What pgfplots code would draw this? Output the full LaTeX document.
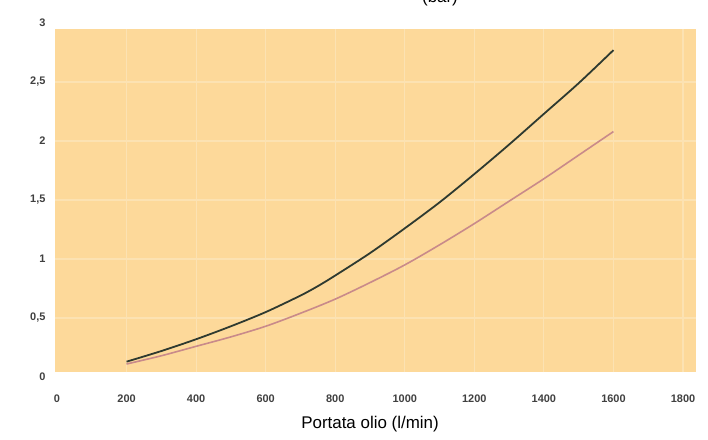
\documentclass[border=0pt]{standalone}
\usepackage{pgfplots}
\pgfplotsset{compat=1.18}
\usepackage{fontspec}
\setmainfont{Liberation Sans}
\definecolor{bgor}{HTML}{FDD99A}
\definecolor{gridc}{HTML}{FCE2B2}
\definecolor{darkc}{HTML}{2E3A30}
\definecolor{pinkc}{HTML}{C98A8A}
\definecolor{tickc}{HTML}{404040}
\begin{document}
\begin{tikzpicture}[x=1bp,y=1bp]
\useasboundingbox (-57bp,-63bp) rectangle (651bp,377bp);
\begin{axis}[
  at={(0,0)}, anchor=origin,
  scale only axis,
  width=626bp, height=354bp,
  xmin=0, xmax=1800, ymin=0, ymax=3,
  clip=false,
  axis line style={draw=none},
  tick style={draw=none},
  xtick={0,200,...,1800},
  ytick={0,0.5,1,1.5,2,2.5,3},
  yticklabels={0,{0,5},1,{1,5},2,{2,5},3},
  /pgf/number format/assume math mode=true,
  /pgf/number format/1000 sep={},
  ticklabel style={font=\fontsize{11}{13}\selectfont\bfseries, text=tickc},
  xticklabel style={yshift=-14bp},
  yticklabel style={xshift=-8bp},
]
\fill[bgor] (axis cs:-6,0.04) rectangle (axis cs:1838,2.95);
\pgfplotsinvokeforeach{200,400,...,1800}{\draw[gridc, line width=1.2bp] (axis cs:#1,0.04) -- (axis cs:#1,2.95);}
\pgfplotsinvokeforeach{0.5,1,1.5,2,2.5}{\draw[gridc, line width=1.2bp] (axis cs:-6,#1) -- (axis cs:1838,#1);}
\addplot[pinkc, line width=1.6bp, smooth] coordinates {
(200,0.11) (300,0.18) (400,0.26) (500,0.34) (600,0.43) (700,0.54) (800,0.66)
(900,0.80) (1000,0.95) (1100,1.12) (1200,1.30) (1300,1.49) (1400,1.68)
(1500,1.88) (1600,2.08)};
\addplot[darkc, line width=1.8bp, smooth] coordinates {
(200,0.13) (300,0.22) (400,0.32) (500,0.43) (600,0.55) (700,0.69) (750,0.77)
(800,0.86) (900,1.05) (1000,1.26) (1100,1.48) (1200,1.72) (1300,1.97)
(1400,2.23) (1500,2.49) (1600,2.77)};
\end{axis}
\node[anchor=base, font=\fontsize{17}{20}\selectfont] at (313bp,-51bp) {Portata olio (l/min)};
\node[anchor=base, font=\fontsize{17}{20}\selectfont] at (383bp,374bp) {(bar)};
\end{tikzpicture}
\end{document}
